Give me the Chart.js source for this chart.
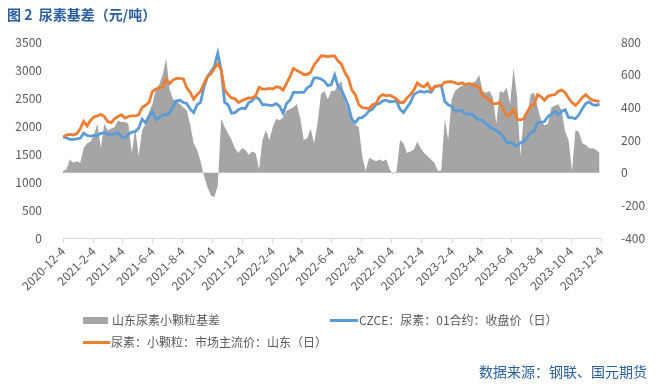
<!DOCTYPE html>
<html>
<head>
<meta charset="utf-8">
<script src="https://cdn.jsdelivr.net/npm/chart.js@4.4.0/dist/chart.umd.min.js"></script>
<style>
  body { margin: 0; background: #fff; font-family: "Noto Sans CJK SC", sans-serif; }
  #wrap { position: relative; width: 659px; height: 387px; }
  #title { position: absolute; left: 7px; top: 4px; font-size: 14px; font-weight: bold; color: #2b5e9e; white-space: nowrap; }
  #source { position: absolute; right: 12px; top: 361px; font-size: 14px; color: #2b5e9e; white-space: nowrap; }
  .item { position: absolute; font-size: 12px; color: #595959; line-height: 14px; white-space: nowrap; }
  .swatch { position: absolute; }
</style>
</head>
<body>
<div id="wrap">
  <canvas id="chart" width="659" height="387"></canvas>
  <div id="title">图 2&nbsp;&nbsp;尿素基差（元/吨）</div>
  <div class="swatch" style="left:83px;top:317px;width:25px;height:7px;background:#a5a5a5"></div>
  <div class="item" style="left:112px;top:313px">山东尿素小颗粒基差</div>
  <div class="swatch" style="left:330px;top:319px;width:28px;height:3px;background:#5b9bd5"></div>
  <div class="item" style="left:359px;top:313px">CZCE：尿素：01合约：收盘价（日）</div>
  <div class="swatch" style="left:83px;top:341px;width:27px;height:3px;background:#ed7d31"></div>
  <div class="item" style="left:111px;top:335px">尿素：小颗粒：市场主流价：山东（日）</div>
  <div id="source">数据来源：钢联、国元期货</div>
</div>
<script>
// tick labels on the date axis
const xLabels = ["2020-12-4", "2021-2-4", "2021-4-4", "2021-6-4", "2021-8-4", "2021-10-4",
  "2021-12-4", "2022-2-4", "2022-4-4", "2022-6-4", "2022-8-4", "2022-10-4",
  "2022-12-4", "2023-2-4", "2023-4-4", "2023-6-4", "2023-8-4", "2023-10-4", "2023-12-4"];

// one value per week, starting 2020-12-4
const weekStep = 7;

// 山东尿素小颗粒基差 (right axis)
const basis = [
  10, 20, 80, 60, 70, 60, 150, 180, 190, 230,
  300, 150, 300, 260, 270, 280, 320, 310, 310, 300,
  120, 270, 100, 260, 300, 370, 420, 510, 540, 600,
  700, 510, 450, 440, 420, 400, 380, 290, 180, 140,
  70, -20, -90, -140, -150, -80, 330, 280, 240, 200,
  150, 120, 150, 140, 110, 130, 120, 20, 200, 260,
  200, 280, 330, 320, 340, 380, 390, 400, 420, 330,
  200, 210, 270, 180, 300, 480, 500, 450, 500, 500,
  540, 560, 430, 380, 320, 290, 280, 100, 10, 90,
  80, 70, 80, 70, 80, 20, -10, 10, 200, 180,
  120, 130, 140, 190, 150, 120, 100, 80, 60, 10,
  15, 330, 200, 450, 500, 520, 530, 540, 545, 550,
  560, 600, 500, 490, 500, 460, 300, 500, 490, 520,
  420, 640, 470, 100, 360, 350, 480, 490, 400, 320,
  290, 300, 400, 410, 420, 380, 250, 200, 10, 260,
  250, 180, 170, 150, 150, 140, 120
];

// CZCE：尿素：01合约：收盘价（日）
const czce = [
  1800, 1790, 1760, 1760, 1770, 1780, 1870, 1830, 1820, 1830,
  1830, 1870, 1880, 1850, 1850, 1860, 1880, 1800, 1790, 1850,
  1890, 1900, 1960, 2120, 2060, 2180, 2250, 2120, 2150, 2200,
  2200, 2230, 2350, 2450, 2460, 2420, 2400, 2300, 2240, 2380,
  2420, 2700, 2880, 2970, 3060, 3300, 3000, 2420, 2380, 2230,
  2240, 2290, 2320, 2310, 2420, 2450, 2520, 2480, 2380, 2380,
  2370, 2370, 2400, 2350, 2230, 2400, 2460, 2600, 2600, 2600,
  2600, 2680, 2720, 2860, 2860, 2840, 2800, 2720, 2740, 2910,
  2700, 2640, 2500, 2350, 2120, 2060, 2140, 2150, 2200, 2270,
  2300, 2380, 2400, 2450, 2460, 2430, 2440, 2440, 2300, 2240,
  2330, 2420, 2560, 2600, 2620, 2600, 2620, 2600, 2700, 2710,
  2720, 2440, 2380, 2350, 2260, 2280, 2270, 2220, 2210, 2210,
  2150, 2110, 2100, 2040, 1990, 1950, 1920, 1880, 1810, 1700,
  1710, 1670, 1640, 1700, 1720, 1790, 1880, 1900, 2060, 2070,
  2080, 2170, 2210, 2260, 2200, 2260, 2290, 2150, 2150, 2130,
  2200, 2310, 2400, 2430, 2380, 2370, 2390
];

// 尿素：小颗粒：市场主流价：山东（日）
const shandong = [
  1800, 1840, 1850, 1840, 1860, 1950, 2080, 2000, 2100, 2160,
  2180, 2210, 2170, 2080, 2060, 2130, 2170, 2200, 2140, 2170,
  2180, 2180, 2200, 2330, 2370, 2420, 2620, 2660, 2680, 2700,
  2840, 2760, 2820, 2850, 2850, 2840, 2680, 2600, 2480, 2560,
  2620, 2760, 2880, 2930, 3030, 3110, 3000, 2640, 2560, 2500,
  2490, 2420, 2450, 2480, 2500, 2500, 2540, 2690, 2660, 2660,
  2670, 2660, 2700, 2690, 2640, 2760, 2880, 3030, 2990, 2960,
  2920, 2920, 2960, 3090, 3170, 3250, 3250, 3240, 3250, 3250,
  3160, 3100, 2950, 2850, 2640, 2560, 2380, 2330, 2320, 2310,
  2380, 2400, 2520, 2560, 2540, 2550, 2520, 2480, 2420, 2420,
  2500, 2560, 2640, 2770, 2720, 2700, 2760, 2640, 2700, 2720,
  2720, 2780, 2790, 2790, 2770, 2750, 2770, 2740, 2760, 2740,
  2720, 2690, 2540, 2520, 2460, 2400, 2400, 2420, 2300, 2180,
  2200, 2300, 2120, 2110, 2130, 2250, 2360, 2380, 2560, 2520,
  2460, 2530, 2550, 2560, 2620, 2640, 2600, 2500, 2420, 2370,
  2430, 2510, 2560, 2500, 2460, 2450, 2440
];

function dayOffset(s) {
  const [y, m, d] = s.split("-").map(Number);
  return (Date.UTC(y, m - 1, d) - Date.UTC(2020, 11, 4)) / 86400000;
}
const tickDays = xLabels.map(dayOffset);
const pts = arr => arr.map((v, i) => ({ x: i * weekStep, y: v }));

const tickFont = { family: '"Noto Sans CJK SC", sans-serif', size: 12 };
const tickColor = "#595959";

new Chart(document.getElementById("chart"), {
  type: "line",
  data: {
    datasets: [
      {
        label: "尿素：小颗粒：市场主流价：山东（日）",
        data: pts(shandong),
        yAxisID: "y",
        borderColor: "#ed7d31",
        borderWidth: 2.8,
        pointRadius: 0,
        fill: false,
        order: 0
      },
      {
        label: "CZCE：尿素：01合约：收盘价（日）",
        data: pts(czce),
        yAxisID: "y",
        borderColor: "#5b9bd5",
        borderWidth: 2.8,
        pointRadius: 0,
        fill: false,
        order: 1
      },
      {
        label: "山东尿素小颗粒基差",
        data: pts(basis),
        yAxisID: "y1",
        backgroundColor: "#a5a5a5",
        borderWidth: 0,
        pointRadius: 0,
        fill: "origin",
        order: 2
      }
    ]
  },
  options: {
    responsive: false,
    animation: false,
    layout: { padding: { top: 42, left: 0, right: 0, bottom: 0 } },
    plugins: { legend: { display: false }, tooltip: { enabled: false } },
    scales: {
      x: {
        type: "linear",
        min: 0,
        max: 1095,
        afterBuildTicks: s => { s.ticks = tickDays.map(v => ({ value: v })); },
        afterFit: s => { s.height = 149; },
        ticks: {
          autoSkip: false,
          minRotation: 45,
          maxRotation: 45,
          padding: 1,
          color: tickColor,
          font: tickFont,
          callback: (v, i) => xLabels[i]
        },
        grid: { drawOnChartArea: false, drawTicks: true, tickLength: 5, color: "#d9d9d9" },
        border: { color: "#d9d9d9" }
      },
      y: {
        position: "left",
        min: 0,
        max: 3500,
        afterFit: s => { s.width = 63; },
        ticks: { stepSize: 500, padding: 13, color: tickColor, font: tickFont, callback: v => String(v) },
        grid: { display: false },
        border: { display: false }
      },
      y1: {
        position: "right",
        min: -400,
        max: 800,
        afterFit: s => { s.width = 58; },
        ticks: { stepSize: 200, padding: 12, color: tickColor, font: tickFont, callback: v => String(v) },
        grid: { display: false },
        border: { display: false }
      }
    }
  }
});
</script>
</body>
</html>
